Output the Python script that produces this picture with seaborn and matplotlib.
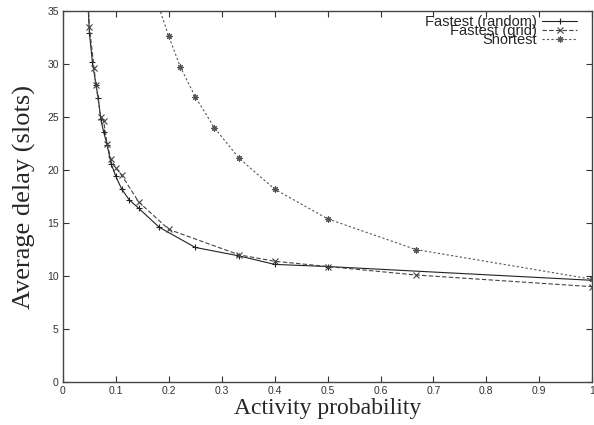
import matplotlib
matplotlib.use("Agg")
import matplotlib.pyplot as plt
import seaborn as sns
import pandas as pd

# Fastest (random)
rand_x = [0.045, 0.05, 0.0556, 0.0625, 0.0667, 0.0714, 0.0769, 0.0833, 0.0909,
          0.1, 0.111, 0.125, 0.143, 0.182, 0.25, 0.333, 0.4, 0.5, 1.0]
rand_y = [38.0, 32.9, 30.2, 28.0, 26.8, 24.8, 23.6, 22.4, 20.6,
          19.4, 18.2, 17.2, 16.4, 14.6, 12.7, 11.9, 11.1, 10.9, 9.6]

# Fastest (grid)
grid_x = [0.045, 0.05, 0.0588, 0.0625, 0.0714, 0.0769, 0.0833, 0.0909, 0.1,
          0.111, 0.143, 0.2, 0.333, 0.4, 0.5, 0.667, 1.0]
grid_y = [38.5, 33.5, 29.6, 28.0, 25.0, 24.6, 22.5, 21.0, 20.2,
          19.5, 17.0, 14.4, 12.0, 11.4, 10.9, 10.1, 9.0]

# Shortest
short_x = [0.1667, 0.1818, 0.2, 0.222, 0.25, 0.286, 0.333, 0.4, 0.5, 0.667, 1.0]
short_y = [38.5, 35.3, 32.6, 29.7, 26.9, 24.0, 21.1, 18.2, 15.4, 12.5, 9.7]

x_ticks = [0, 0.1, 0.2, 0.3, 0.4, 0.5, 0.6, 0.7, 0.8, 0.9, 1]
x_tick_labels = ["0", "0.1", "0.2", "0.3", "0.4", "0.5", "0.6", "0.7", "0.8", "0.9", "1"]
y_ticks = [0, 5, 10, 15, 20, 25, 30, 35]

sns.set_style("ticks")
plt.rcParams["font.family"] = ["Liberation Sans", "DejaVu Sans"]

fig = plt.figure(figsize=(5.94, 4.25), dpi=100)
ax = fig.add_axes([0.106, 0.101, 0.891, 0.873])

series = [
    ("Fastest (random)", rand_x, rand_y, "-", "+", "#222222"),
    ("Fastest (grid)", grid_x, grid_y, (0, (4, 2)), "x", "#444444"),
    ("Shortest", short_x, short_y, (0, (2, 2)), (8, 2, 0), "#555555"),
]
for name, xs, ys, ls, mk, col in series:
    df = pd.DataFrame({"x": xs, "y": ys})
    sns.lineplot(data=df, x="x", y="y", ax=ax, label=name, color=col,
                 linestyle=ls, linewidth=0.8, marker=mk, markersize=4.5,
                 markeredgewidth=0.8, markeredgecolor=col)

ax.set_xlim(0, 1)
ax.set_ylim(0, 35)
ax.set_xticks(x_ticks)
ax.set_xticklabels(x_tick_labels)
ax.set_yticks(y_ticks)
ax.tick_params(direction="in", top=True, right=True, length=4, width=0.8,
               labelsize=7.5, colors="#333333", pad=3)
for sp in ax.spines.values():
    sp.set_color("#444444")
    sp.set_linewidth(1.0)

ax.set_xlabel("Activity probability", family="Liberation Serif", fontsize=17,
              labelpad=1)
ax.set_ylabel("Average delay (slots)", family="Liberation Serif", fontsize=19,
              labelpad=8)

leg = ax.legend(loc="upper right", frameon=False, markerfirst=False,
                fontsize=10.5, handlelength=2.4, handletextpad=0.35,
                labelspacing=-0.33, borderpad=0.0, borderaxespad=0.0,
                bbox_to_anchor=(0.972, 0.99))

fig.savefig("out.png", dpi=100)
